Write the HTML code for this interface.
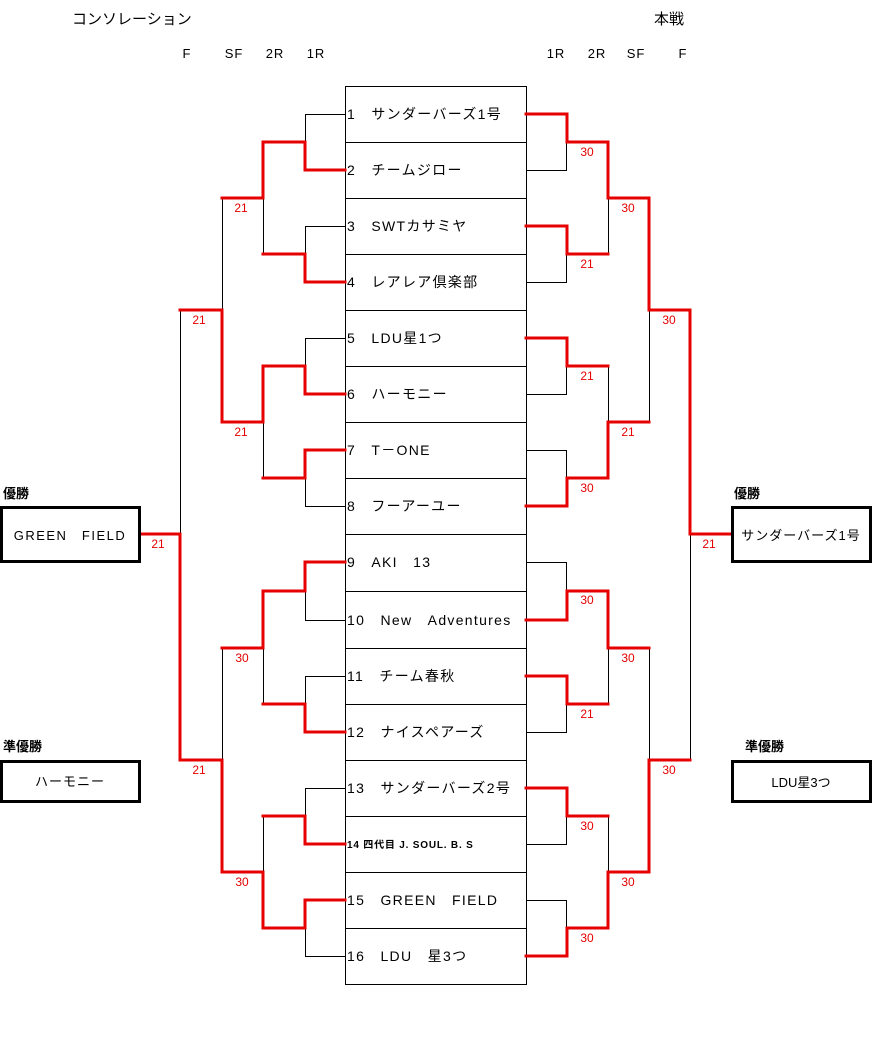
<!DOCTYPE html>
<html><head><meta charset="utf-8"><style>
html,body{margin:0;padding:0;background:#fff;}
svg{display:block;font-family:"Liberation Sans","Noto Sans CJK JP",sans-serif;}
.k{stroke:#000;stroke-width:1;fill:none;}
.r{stroke:#e60000;stroke-width:3;fill:none;stroke-linecap:square;}
.s{fill:#e60000;font-size:12px;text-anchor:middle;}
.t{font-size:14px;letter-spacing:1.3px;}
.h{font-size:13px;text-anchor:middle;}
</style></head><body>
<svg width="874" height="1047" viewBox="0 0 874 1047" xmlns="http://www.w3.org/2000/svg">
<text x="72" y="24" font-size="15">コンソレーション</text>
<text x="654" y="24" font-size="15">本戦</text>
<g class="h" letter-spacing="1">
<text x="187" y="58">F</text><text x="234" y="58">SF</text><text x="275" y="58">2R</text><text x="316" y="58">1R</text>
<text x="556" y="58">1R</text><text x="597" y="58">2R</text><text x="636" y="58">SF</text><text x="683" y="58">F</text>
</g>
<rect x="345.5" y="86.5" width="181" height="898" fill="none" stroke="#000"/>
<g class="k">
<path d="M345 142.5H526M345 198.5H526M345 254.5H526M345 310.5H526M345 366.5H526M345 422.5H526M345 478.5H526M345 534.5H526M345 591.5H526M345 648.5H526M345 704.5H526M345 760.5H526M345 816.5H526M345 872.5H526M345 928.5H526"/>
</g>
<g class="t">
<text x="347" y="119">1　サンダーバーズ1号</text>
<text x="347" y="175">2　チームジロー</text>
<text x="347" y="231">3　SWTカサミヤ</text>
<text x="347" y="287">4　レアレア倶楽部</text>
<text x="347" y="343">5　LDU星1つ</text>
<text x="347" y="399">6　ハーモニー</text>
<text x="347" y="455">7　T－ONE</text>
<text x="347" y="511">8　フーアーユー</text>
<text x="347" y="567">9　AKI　13</text>
<text x="347" y="625">10　New　Adventures</text>
<text x="347" y="681">11　チーム春秋</text>
<text x="347" y="737">12　ナイスペアーズ</text>
<text x="347" y="793">13　サンダーバーズ2号</text>
<text x="347" y="848" font-size="10" font-weight="bold" letter-spacing="0.8">14 四代目 J. SOUL. B. S</text>
<text x="347" y="905">15　GREEN　FIELD</text>
<text x="347" y="961">16　LDU　星3つ</text>
</g>
<g class="k">
<path d="M305 114.5H345M305.5 114V142"/>
<path d="M305 226.5H345M305.5 226V254"/>
<path d="M305 338.5H345M305.5 338V366"/>
<path d="M305 506.5H345M305.5 478V506"/>
<path d="M305 620.5H345M305.5 591V620"/>
<path d="M305 676.5H345M305.5 676V704"/>
<path d="M305 788.5H345M305.5 788V816"/>
<path d="M305 956.5H345M305.5 928V956"/>
<path d="M263.5 198V254M263.5 422V478M263.5 648V704M263.5 816V872"/>
<path d="M222.5 198V310M222.5 648V760M180.5 310V534"/>
</g>
<g class="r">
<path d="M345 170H305V142H263V198H222"/>
<path d="M345 282H305V254H263"/>
<path d="M345 394H305V366H263V422H222V310H180"/>
<path d="M345 450H305V478H263"/>
<path d="M345 562H305V591H263V648H222"/>
<path d="M345 732H305V704H263"/>
<path d="M345 844H305V816H263"/>
<path d="M345 900H305V928H263V872H222V760H180V534H141"/>
</g>
<g class="k">
<path d="M526 170.5H567M566.5 142V170"/>
<path d="M526 282.5H567M566.5 254V282"/>
<path d="M526 394.5H567M566.5 366V394"/>
<path d="M526 450.5H567M566.5 450V478"/>
<path d="M526 562.5H567M566.5 562V591"/>
<path d="M526 732.5H567M566.5 704V732"/>
<path d="M526 844.5H567M566.5 816V844"/>
<path d="M526 900.5H567M566.5 900V928"/>
<path d="M608.5 198V254M608.5 366V422M608.5 648V704M608.5 816V872"/>
<path d="M649.5 310V422M649.5 648V760M690.5 534V760"/>
</g>
<g class="r">
<path d="M526 114H567V142H608V198H649V310H690V534H731"/>
<path d="M526 226H567V254H608"/>
<path d="M526 338H567V366H608"/>
<path d="M526 506H567V478H608V422H649"/>
<path d="M526 620H567V591H608V648H649"/>
<path d="M526 676H567V704H608"/>
<path d="M526 788H567V816H608"/>
<path d="M526 956H567V928H608V872H649V760H690"/>
</g>
<g class="s">
<text x="241" y="212">21</text><text x="241" y="436">21</text><text x="242" y="662">30</text><text x="242" y="886">30</text>
<text x="199" y="324">21</text><text x="199" y="774">21</text><text x="158" y="548">21</text>
<text x="587" y="156">30</text><text x="587" y="268">21</text><text x="587" y="380">21</text><text x="587" y="492">30</text>
<text x="587" y="604">30</text><text x="587" y="718">21</text><text x="587" y="830">30</text><text x="587" y="942">30</text>
<text x="628" y="212">30</text><text x="628" y="436">21</text><text x="628" y="662">30</text><text x="628" y="886">30</text>
<text x="669" y="324">30</text><text x="669" y="774">30</text><text x="709" y="548">21</text>
</g>
<text x="3" y="498" font-size="13" font-weight="bold">優勝</text>
<rect x="1.5" y="507.5" width="138" height="54" fill="none" stroke="#000" stroke-width="3"/>
<text x="70" y="540" class="h" font-size="14" letter-spacing="1.5">GREEN　FIELD</text>
<text x="3" y="751" font-size="13" font-weight="bold">準優勝</text>
<rect x="1.5" y="761.5" width="138" height="40" fill="none" stroke="#000" stroke-width="3"/>
<text x="70" y="786" class="h" letter-spacing="1">ハーモニー</text>
<text x="734" y="498" font-size="13" font-weight="bold">優勝</text>
<rect x="732.5" y="507.5" width="138" height="54" fill="none" stroke="#000" stroke-width="3"/>
<text x="801" y="540" class="h" font-size="14" letter-spacing="1">サンダーバーズ1号</text>
<text x="745" y="751" font-size="13" font-weight="bold">準優勝</text>
<rect x="732.5" y="761.5" width="138" height="40" fill="none" stroke="#000" stroke-width="3"/>
<text x="801" y="787" class="h" font-size="14">LDU星3つ</text>
</svg>
</body></html>
